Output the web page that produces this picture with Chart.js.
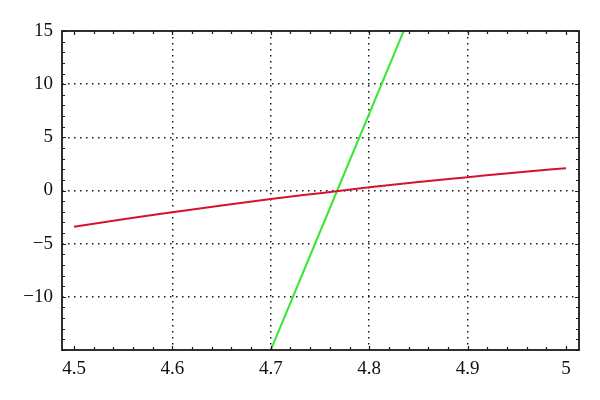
<!DOCTYPE html>
<html><head><meta charset="utf-8">
<script src="https://cdn.jsdelivr.net/npm/chart.js@4/dist/chart.umd.min.js"></script>
<style>html,body{margin:0;padding:0;background:#fff}#wrap{width:600px;height:400px}</style>
</head><body><div id="wrap"><canvas id="c" width="600" height="400"></canvas></div>
<script>
const xTicks = [4.5, 4.6, 4.7, 4.8, 4.9, 5];
const yTicks = [-10, -5, 0, 5, 10, 15];
const redX = [4.5, 4.55, 4.6, 4.65, 4.7, 4.75, 4.8, 4.85, 4.9, 4.95, 5.0];
const redY = [-3.4, -2.7, -2.05, -1.4, -0.8, -0.25, 0.3, 0.8, 1.25, 1.7, 2.1];
const greenX = [4.695, 4.7675, 4.84];
const greenY = [-16.1, 0, 16.1];

const X_MIN = 4.4878, X_MAX = 5.0132, Y_MIN = -15, Y_MAX = 15;
const fontFam = 'Liberation Serif';

const framePlugin = {
  id: 'frame',
  afterDatasetsDraw(chart) {
    const {ctx, chartArea: a, scales: {x, y}} = chart;
    ctx.save();
    ctx.strokeStyle = '#1a1a1a';
    ctx.lineWidth = 1.2;
    for (let i = 0; i <= 25; i++) {
      const v = 4.5 + i * 0.02;
      const px = Math.round(x.getPixelForValue(v)) + 0.5;
      const len = (i % 5 === 0) ? 4 : 3;
      ctx.beginPath();
      ctx.moveTo(px, a.bottom); ctx.lineTo(px, a.bottom - len);
      ctx.moveTo(px, a.top); ctx.lineTo(px, a.top + len);
      ctx.stroke();
    }
    for (let v = -15; v <= 15; v++) {
      const py = Math.round(y.getPixelForValue(v)) + 0.5;
      const len = (v % 5 === 0) ? 4 : 3;
      ctx.beginPath();
      ctx.moveTo(a.left, py); ctx.lineTo(a.left + len, py);
      ctx.moveTo(a.right, py); ctx.lineTo(a.right - len, py);
      ctx.stroke();
    }
    ctx.lineWidth = 1.8;
    ctx.strokeRect(a.left, a.top, a.right - a.left, a.bottom - a.top);
    ctx.restore();
  }
};

function toPts(xs, ys) { return xs.map((v, i) => ({x: v, y: ys[i]})); }

new Chart(document.getElementById('c'), {
  type: 'scatter',
  data: {
    datasets: [
      {data: toPts(redX, redY), showLine: true, borderColor: 'rgb(212,20,45)', borderWidth: 2,
       pointRadius: 0, cubicInterpolationMode: 'monotone'},
      {data: toPts(greenX, greenY), showLine: true, borderColor: 'rgb(55,230,50)', borderWidth: 2,
       pointRadius: 0}
    ]
  },
  options: {
    responsive: false, animation: false,
    layout: {padding: {left: 0, right: 21, top: 31, bottom: 0}},
    plugins: {legend: {display: false}, tooltip: {enabled: false}},
    scales: {
      x: {
        type: 'linear', min: X_MIN, max: X_MAX,
        afterBuildTicks(s) { s.ticks = xTicks.map(v => ({value: v})); },
        afterFit(s) { s.height = 50; },
        border: {display: false, dash: [1.5, 4.5]},
        grid: {drawTicks: false, lineWidth: 1.5, color: c => (c.tick && (c.tick.value === 4.5 || c.tick.value === 5)) ? 'rgba(0,0,0,0)' : '#1a1a1a'},
        ticks: {padding: 8, color: '#111', font: {family: fontFam, size: 19},
                callback: v => String(v).replace('-', '\u2212')}
      },
      y: {
        type: 'linear', min: Y_MIN, max: Y_MAX,
        afterBuildTicks(s) { s.ticks = yTicks.map(v => ({value: v})); },
        afterFit(s) { s.width = 62; },
        border: {display: false, dash: [1.5, 4.5]},
        grid: {drawTicks: false, lineWidth: 1.5, color: c => (c.tick && c.tick.value === 15) ? 'rgba(0,0,0,0)' : '#1a1a1a'},
        ticks: {padding: 9, color: '#111', font: {family: fontFam, size: 19},
                callback: v => String(v).replace('-', '\u2212')}
      }
    }
  },
  plugins: [framePlugin]
});
</script></body></html>
